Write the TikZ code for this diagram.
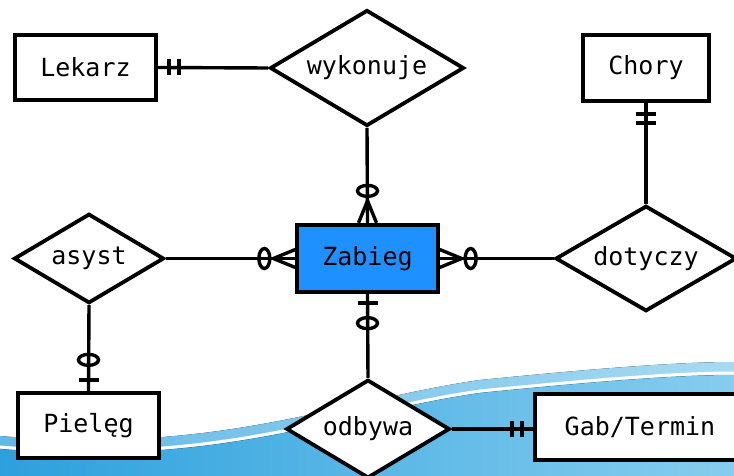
\documentclass[tikz,border=0pt]{standalone}
\usepackage{fontspec}
\setmonofont{DejaVu Sans Mono}
\usetikzlibrary{shapes.geometric,calc}

\definecolor{zabfill}{RGB}{30,144,255}
\definecolor{bandtopL}{RGB}{98,184,230}
\definecolor{bandtopR}{RGB}{166,218,242}
\definecolor{bandlowL}{RGB}{44,160,221}
\definecolor{bandlowR}{RGB}{134,205,238}

\newcommand{\erfont}{\fontsize{25}{30}\selectfont\ttfamily}

\begin{document}
\begin{tikzpicture}[x=1pt,y=-1pt,
  entity/.style={draw, line width=3.8pt, fill=white, inner sep=0pt, font=\erfont},
  rel/.style={diamond, draw, line width=3.8pt, fill=white, inner sep=0pt, font=\erfont},
  conn/.style={line width=3.4pt},
  mk/.style={line width=3.4pt}]

\useasboundingbox (0,0) rectangle (734,476);

% decorative wave along the bottom edge
\fill[left color=bandtopL, right color=bandtopR]
  (0,436) .. controls (220,455) and (340,400) .. (480,380)
  .. controls (600,368) and (680,362) .. (734,362)
  -- (734,476) -- (0,476) -- cycle;
\fill[left color=bandlowL, right color=bandlowR]
  (0,449) .. controls (220,468) and (340,413) .. (480,393)
  .. controls (600,381) and (680,375) .. (734,375)
  -- (734,476) -- (0,476) -- cycle;
\draw[white, line width=3pt]
  (0,447) .. controls (220,466) and (340,411) .. (480,391)
  .. controls (600,379) and (680,373) .. (734,373);

% entities and relationships
\node[entity, minimum width=141.5pt, minimum height=65.5pt] (lek) at (85.5,67.5) {Lekarz};
\node[rel, aspect=1.67, minimum width=194pt, minimum height=116pt] (wyk) at (367,68) {wykonuje};
\node[entity, minimum width=126.5pt, minimum height=66.5pt] (cho) at (646,68) {Chory};
\node[entity, fill=zabfill, minimum width=140.5pt, minimum height=67.5pt] (zab) at (367.5,258.5) {Zabieg};
\node[rel, aspect=1.68, minimum width=150pt, minimum height=89.5pt] (asy) at (89,258.5) {asyst};
\node[rel, aspect=1.72, minimum width=181pt, minimum height=105.5pt] (dot) at (646,258.5) {dotyczy};
\node[entity, minimum width=141.5pt, minimum height=65.5pt] (pie) at (88.5,425.5) {Pielęg};
\node[rel, aspect=1.66, minimum width=163.5pt, minimum height=98.5pt] (odb) at (368,429) {odbywa};
\node[entity, minimum width=210.5pt, minimum height=66.5pt] (gab) at (640,427) {Gab/Termin\hspace{17pt}};

% connectors
\draw[conn] (lek.east) -- (wyk.west);
\draw[conn] (wyk.south) -- (zab.north);
\draw[conn] (asy.east) -- (zab.west);
\draw[conn] (zab.east) -- (dot.west);
\draw[conn] (cho.south) -- (dot.north);
\draw[conn] (zab.south) -- (odb.north);
\draw[conn] (asy.south) -- (pie.north);
\draw[conn] (odb.east) -- (odb.east -| gab.west);

% Lekarz: exactly one
\draw[mk] ($(lek.east)+(11,-8)$) -- ++(0,16);
\draw[mk] ($(lek.east)+(21,-8)$) -- ++(0,16);

% Zabieg (top): zero or many
\draw[mk] ($(zab.north)+(0,-22)$) -- ($(zab.north)+(-9,0)$);
\draw[mk] ($(zab.north)+(0,-22)$) -- ($(zab.north)+(9,0)$);
\draw[mk] ($(zab.north)+(0,-32)$) ellipse [x radius=10pt, y radius=5.5pt];

% Zabieg (left): zero or many
\draw[mk] ($(zab.west)+(-22,0)$) -- ($(zab.west)+(0,-9)$);
\draw[mk] ($(zab.west)+(-22,0)$) -- ($(zab.west)+(0,9)$);
\draw[mk] ($(zab.west)+(-31,0)$) ellipse [x radius=5.5pt, y radius=10pt];

% Zabieg (right): zero or many
\draw[mk] ($(zab.east)+(22,0)$) -- ($(zab.east)+(0,-9)$);
\draw[mk] ($(zab.east)+(22,0)$) -- ($(zab.east)+(0,9)$);
\draw[mk] ($(zab.east)+(31,0)$) ellipse [x radius=5.5pt, y radius=10pt];

% Chory: exactly one
\draw[mk] ($(cho.south)+(-10,11)$) -- ++(20,0);
\draw[mk] ($(cho.south)+(-10,20)$) -- ++(20,0);

% Zabieg (bottom): zero or one
\draw[mk] ($(zab.south)+(-10,9)$) -- ++(20,0);
\draw[mk] ($(zab.south)+(0,29)$) ellipse [x radius=10pt, y radius=5.5pt];

% Pielęg: zero or one
\draw[mk] ($(pie.north)+(-10,-11)$) -- ++(20,0);
\draw[mk] ($(pie.north)+(0,-31)$) ellipse [x radius=10pt, y radius=5.5pt];

% Gab/Termin: exactly one
\draw[mk] ($(odb.east -| gab.west)+(-21,-8)$) -- ++(0,16);
\draw[mk] ($(odb.east -| gab.west)+(-11,-8)$) -- ++(0,16);

\end{tikzpicture}
\end{document}
